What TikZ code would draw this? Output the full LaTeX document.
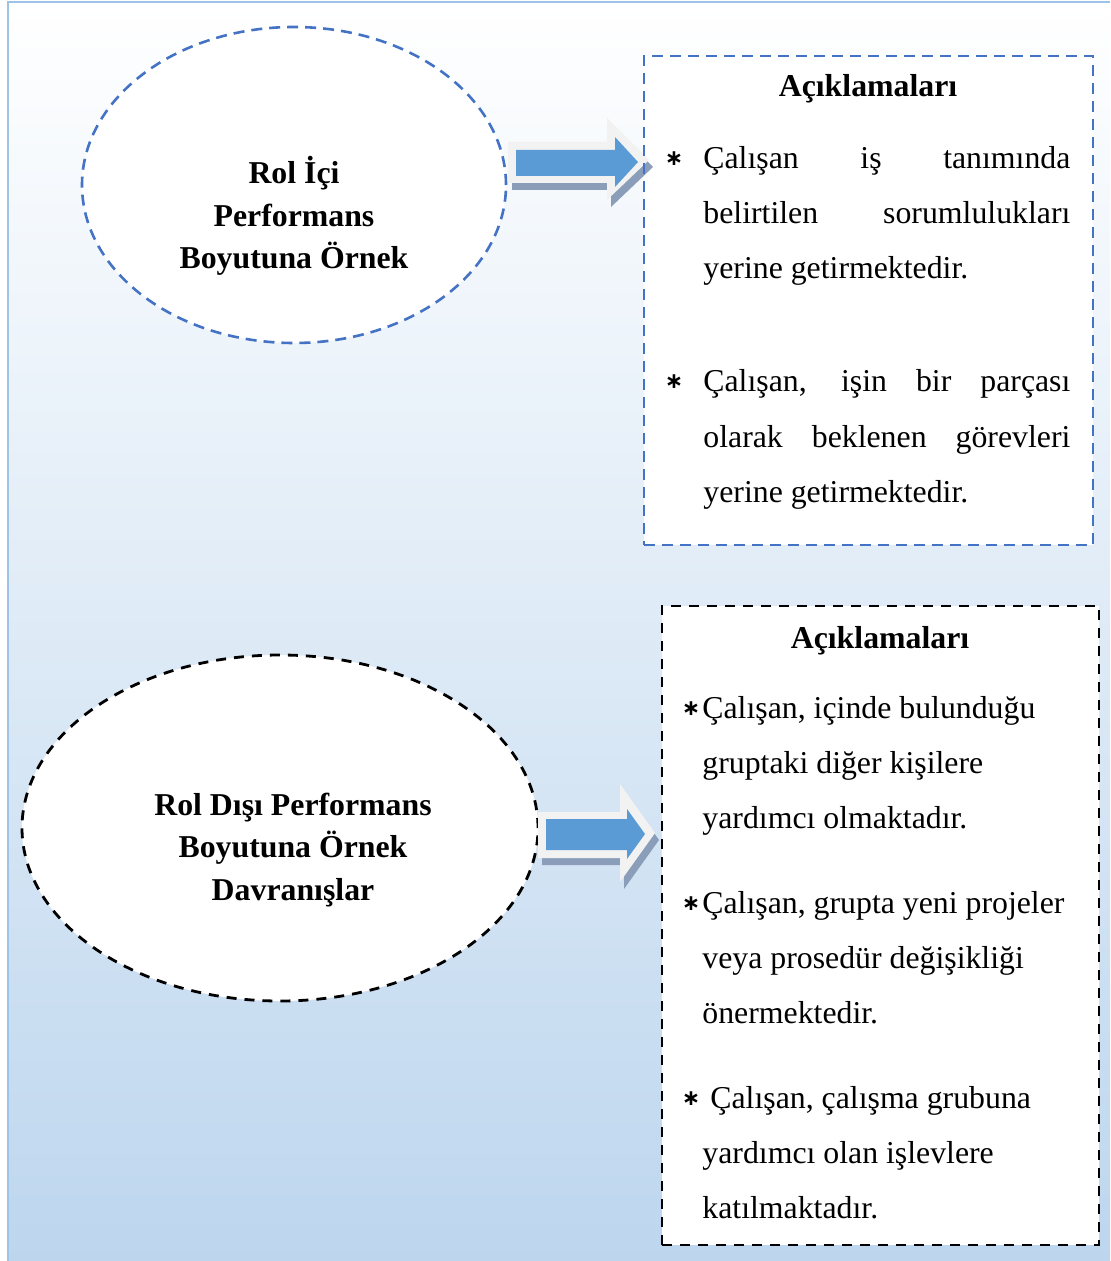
\documentclass[tikz,border=0pt]{standalone}
\usepackage{fontspec}
\setmainfont{Liberation Serif}
\newfontfamily\starfont{DejaVu Sans}
\usetikzlibrary{shapes.geometric}

\definecolor{frameblue}{HTML}{9DC3E6}
\definecolor{bgbottom}{HTML}{BDD6EE}
\definecolor{bgmid}{HTML}{E5EDF8}
\definecolor{dashblue}{HTML}{4472C4}
\definecolor{arrowblue}{HTML}{5B9BD5}
\definecolor{arrowrim}{HTML}{F2F2F2}
\definecolor{arrowshade}{HTML}{8A9EBA}

\begin{document}
\begin{tikzpicture}[x=0.5pt,y=-0.5pt,
  bluedash/.style={draw=dashblue, line width=1.3pt, dash pattern=on 5.5pt off 3.5pt},
  blackdash/.style={draw=black, line width=1.4pt, dash pattern=on 5pt off 4pt},
  oval/.style={ellipse, fill=white, inner sep=0pt},
  panel/.style={rectangle, inner sep=0pt},
  head/.style={font=\fontsize{15.9}{21.25}\selectfont\bfseries, align=center, inner sep=0pt},
  body/.style={font=\fontsize{15.9}{27}\selectfont, inner sep=0pt, anchor=base west},
  bullet/.style={font=\starfont\bfseries\fontsize{11}{11}\selectfont, inner sep=0pt},
]
% canvas and page background
\useasboundingbox (0,0) rectangle (1110,1261);
\fill[white] (0,0) rectangle (1110,1261);
\shade[top color=white, middle color=bgmid, bottom color=bgbottom] (8,2) rectangle (1110,1261);
\draw[frameblue, line width=1.1pt] (8,1261) -- (8,2) -- (1110,2);

% white backing of the upper panel, its border follows after the arrow
\fill[white] (644,56) rectangle (1093,545);
% lower explanation panel
\node[panel, fill=white, blackdash, minimum width=218.5pt, minimum height=319.5pt] (boxB) at (880.5,925.5) {};

% ovals
\node[oval, bluedash, minimum width=212pt, minimum height=158pt] (ovalA) at (294,185) {};
\node[oval, blackdash, minimum width=258pt, minimum height=173pt] (ovalB) at (280,828) {};

% upper block arrow: shadow, light rim, blue core
\fill[arrowshade, shift={(4,7)}] (508,142) -- (607,142) -- (607,118) -- (649,160) -- (607,200) -- (607,183) -- (508,183) -- cycle;
\fill[arrowrim] (508,142) -- (607,142) -- (607,118) -- (649,160) -- (607,200) -- (607,183) -- (508,183) -- cycle;
\fill[arrowblue] (516,150) -- (615,150) -- (615,137) -- (638,162) -- (615,187) -- (615,176) -- (516,176) -- cycle;

% lower block arrow
\fill[arrowshade, shift={(4,7)}] (538,812) -- (620,812) -- (620,784) -- (655,833) -- (620,882) -- (620,858) -- (538,858) -- cycle;
\fill[arrowrim] (538,812) -- (620,812) -- (620,784) -- (655,833) -- (620,882) -- (620,858) -- (538,858) -- cycle;
\fill[arrowblue] (546,819) -- (627,819) -- (627,809) -- (645,834) -- (627,859) -- (627,850) -- (546,850) -- cycle;

% upper explanation panel border, on top of the arrow tip
\node[panel, bluedash, minimum width=224.5pt, minimum height=244.5pt] (boxA) at (868.5,300.5) {};

% oval captions
\node[head] (capA) at (294,216) {Rol İçi\\Performans\\Boyutuna Örnek};
\node[head] (capB) at (293,850) {Rol Dışı Performans\\Boyutuna Örnek\\Davranışlar};

% upper panel text
\node[head, anchor=base] (titleA) at (868,97) {Açıklamaları};
\node[bullet] (sA1) at (674,159) {∗};
\node[body] (a11) at (703,169) {\makebox[183.5pt][s]{Çalışan iş tanımında}};
\node[body] (a12) at (703,224) {\makebox[183.5pt][s]{belirtilen sorumlulukları}};
\node[body] (a13) at (703,279) {yerine getirmektedir.};
\node[bullet] (sA2) at (674,382) {∗};
\node[body] (a21) at (703,392) {\makebox[183.5pt][s]{Çalışan, işin bir parçası}};
\node[body] (a22) at (703,447) {\makebox[183.5pt][s]{olarak beklenen görevleri}};
\node[body] (a23) at (703,502) {yerine getirmektedir.};

% lower panel text
\node[head, anchor=base] (titleB) at (880,648) {Açıklamaları};
\node[bullet] (sB1) at (691,709) {∗};
\node[body] (b11) at (702,718) {Çalışan, içinde bulunduğu};
\node[body] (b12) at (702,773) {gruptaki diğer kişilere};
\node[body] (b13) at (702,828) {yardımcı olmaktadır.};
\node[bullet] (sB2) at (691,904) {∗};
\node[body] (b21) at (702,913) {Çalışan, grupta yeni projeler};
\node[body] (b22) at (702,968) {veya prosedür değişikliği};
\node[body] (b23) at (702,1023) {önermektedir.};
\node[bullet] (sB3) at (691,1099) {∗};
\node[body] (b31) at (710,1108) {Çalışan, çalışma grubuna};
\node[body] (b32) at (702,1163) {yardımcı olan işlevlere};
\node[body] (b33) at (702,1218) {katılmaktadır.};
\end{tikzpicture}
\end{document}
